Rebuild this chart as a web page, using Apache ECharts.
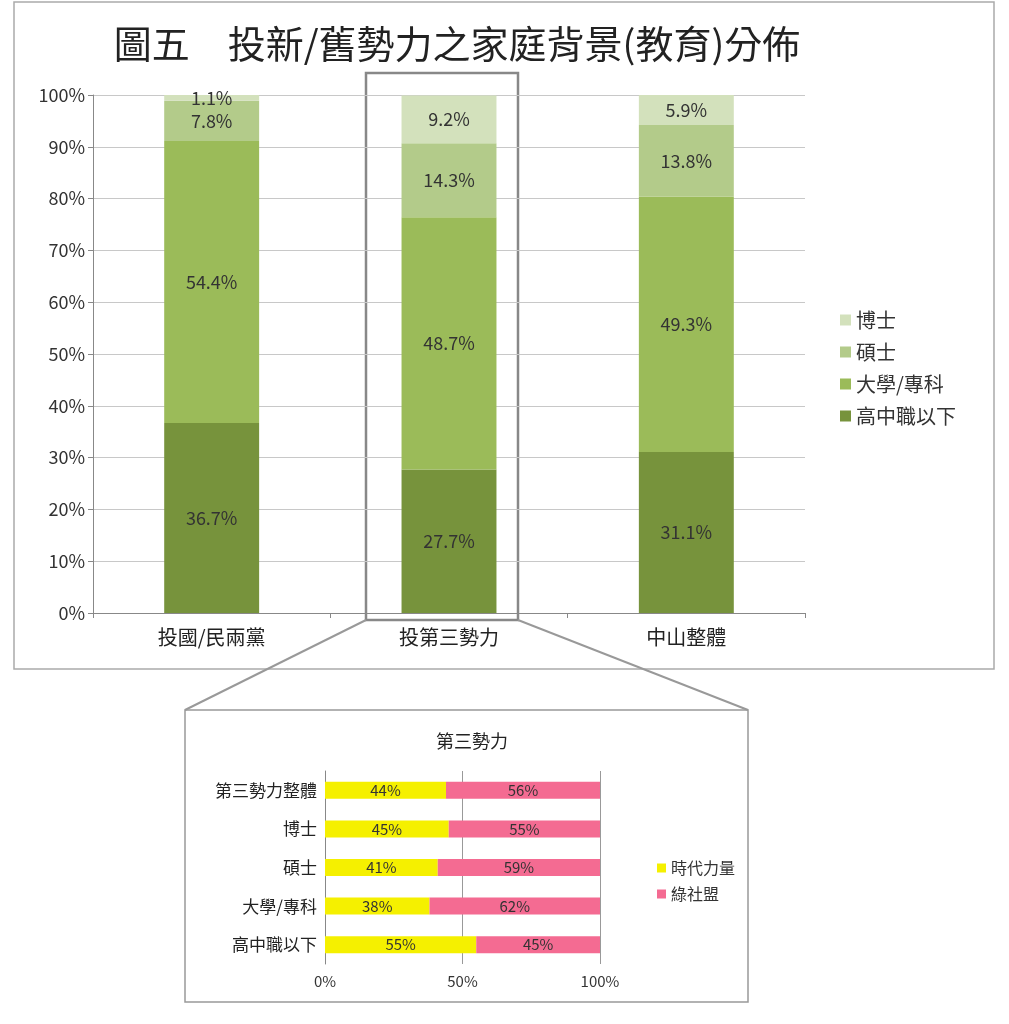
<!DOCTYPE html>
<html><head><meta charset="utf-8">
<script src="https://cdn.jsdelivr.net/npm/echarts@6/dist/echarts.min.js"></script>
<style>html,body{margin:0;background:#fff}#c{width:1009px;height:1024px}</style>
</head><body><div id="c"></div>
<script>
const topCats = ['投國/民兩黨','投第三勢力','中山整體'];
const highSchool = [36.7, 27.7, 31.1];
const college = [54.4, 48.7, 49.3];
const master = [7.8, 14.3, 13.8];
const doctor = [1.1, 9.2, 5.9];
const botCats = ['高中職以下','大學/專科','碩士','博士','第三勢力整體'];
const newPower = [55, 38, 41, 45, 44];
const sdl = [45, 62, 59, 55, 56];

const F = '"Noto Sans CJK TC", sans-serif';
const chart = echarts.init(document.getElementById('c'));
const topColors = ['#77933C','#9BBB59','#B3CB8A','#D3E1BC'];
function topSeries(name, data, color){
  return {name, type:'bar', stack:'t', xAxisIndex:0, yAxisIndex:0, data, barWidth:'40%',
    itemStyle:{color}, label:{show:true, position:'inside', formatter:p=>p.value.toFixed(1)+'%', fontSize:18, color:'#333', fontFamily:F}};
}
function botSeries(name, data, color){
  return {name, type:'bar', stack:'b', xAxisIndex:1, yAxisIndex:1, data, barWidth:17,
    itemStyle:{color}, label:{show:true, position:'inside', formatter:'{c}%', fontSize:15, color:'#333', fontFamily:F}};
}
chart.setOption({
  animation:false,
  textStyle:{fontFamily:F},
  title:[{text:'圖五　投新/舊勢力之家庭背景(教育)分佈', left:452, top:20, textAlign:'center', textStyle:{fontSize:38, fontWeight:'normal', color:'#222', fontFamily:F}},
         {text:'第三勢力', left:467, top:727, textAlign:'center', textStyle:{fontSize:18, fontWeight:'normal', color:'#222', fontFamily:F}}],
  legend:[{data:['博士','碩士','大學/專科','高中職以下'], orient:'vertical', left:835, top:305, itemGap:12, itemWidth:11, itemHeight:11, icon:'rect', textStyle:{fontSize:20, color:'#333'}},
          {data:['時代力量','綠社盟'], orient:'vertical', left:652, top:855, itemGap:10, itemWidth:9, itemHeight:9, icon:'rect', textStyle:{fontSize:16, color:'#333'}}],
  grid:[{left:93, top:95, width:712, height:518},
        {left:325, top:771, width:275, height:193}],
  xAxis:[{type:'category', gridIndex:0, data:topCats, axisLine:{lineStyle:{color:'#888'}}, axisTick:{show:true, lineStyle:{color:'#888'}}, axisLabel:{fontSize:20, color:'#222', margin:14}},
         {type:'value', gridIndex:1, min:0, max:100, interval:50, axisLabel:{formatter:'{value}%', fontSize:15, color:'#333', margin:10}, splitLine:{lineStyle:{color:'#999'}}}],
  yAxis:[{type:'value', gridIndex:0, min:0, max:100, interval:10, axisLabel:{formatter:'{value}%', fontSize:18, color:'#333'}, axisLine:{show:true, lineStyle:{color:'#888'}}, axisTick:{show:true}, splitLine:{lineStyle:{color:'#c8c8c8'}}},
         {type:'category', gridIndex:1, data:botCats, axisLine:{show:true, lineStyle:{color:'#888'}}, axisTick:{show:false}, axisLabel:{fontSize:17, color:'#222'}}],
  series:[
    topSeries('高中職以下', highSchool, topColors[0]),
    topSeries('大學/專科', college, topColors[1]),
    topSeries('碩士', master, topColors[2]),
    topSeries('博士', doctor, topColors[3]),
    botSeries('時代力量', newPower, '#F5F000'),
    botSeries('綠社盟', sdl, '#F46B92')
  ],
  graphic:[
    {type:'rect', shape:{x:14, y:2, width:980, height:667}, style:{fill:null, stroke:'#aaa', lineWidth:1.5}, z:-1},
    {type:'rect', shape:{x:366, y:73, width:152, height:547}, style:{fill:null, stroke:'#888', lineWidth:2.5}},
    {type:'line', shape:{x1:366, y1:620, x2:185, y2:710}, style:{stroke:'#999', lineWidth:2}},
    {type:'line', shape:{x1:518, y1:620, x2:748, y2:710}, style:{stroke:'#999', lineWidth:2}},
    {type:'rect', shape:{x:185, y:710, width:563, height:292}, style:{fill:null, stroke:'#999', lineWidth:1.5}}
  ]
});
</script></body></html>
